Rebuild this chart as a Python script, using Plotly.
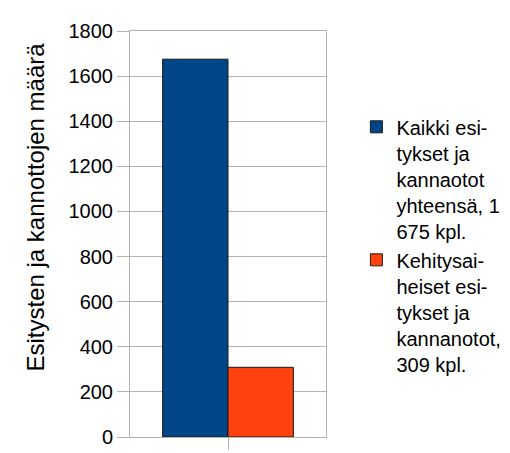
import plotly.graph_objects as go

categories = [""]
series_names = [
    "Kaikki esi-<br>tykset ja<br>kannaotot<br>yhteensä, 1<br>675 kpl.",
    "Kehitysai-<br>heiset esi-<br>tykset ja<br>kannanotot,<br>309 kpl.",
]
series_values = [[1675], [309]]
series_colors = ["#004586", "#ff420e"]
y_ticks = [0, 200, 400, 600, 800, 1000, 1200, 1400, 1600, 1800]
y_title = "Esitysten ja kannottojen määrä"

FONT = "Liberation Sans, Arial, sans-serif"

fig = go.Figure()
for i, (name, vals, col) in enumerate(zip(series_names, series_values, series_colors)):
    fig.add_trace(go.Bar(
        x=categories, y=vals, name=name, legendgroup=f"g{i}",
        marker=dict(color=col, line=dict(color="#1a1a1a", width=1)),
    ))

fig.add_annotation(
    text=y_title, textangle=-90, showarrow=False,
    xref="paper", yref="paper", x=-0.483, y=0.566,
    xanchor="center", yanchor="middle",
    font=dict(family=FONT, size=24, color="#000000"),
)

fig.update_layout(
    width=510, height=453,
    margin=dict(l=122, r=181, t=17, b=12),
    paper_bgcolor="white", plot_bgcolor="white",
    barmode="group", bargap=0.333, bargroupgap=0,
    font=dict(family=FONT, color="#000000"),
    showlegend=True,
    legend=dict(
        x=1.155, xanchor="left", y=0.812, yanchor="top",
        font=dict(family=FONT, size=20, color="#000000"),
        valign="top", tracegroupgap=5, bgcolor="rgba(0,0,0,0)",
        traceorder="normal",
    ),
    xaxis=dict(
        showticklabels=False, ticks="outside", ticklen=12, tickcolor="#b3b3b3",
        showgrid=False, showline=True, linecolor="#b3b3b3", mirror=True,
        zeroline=False,
    ),
    yaxis=dict(
        range=[0, 1800], tickvals=y_ticks, ticks="outside", ticklen=12,
        tickcolor="#b3b3b3", tickfont=dict(size=20),
        showgrid=True, gridcolor="#b3b3b3", gridwidth=1,
        showline=True, linecolor="#b3b3b3", mirror=True, zeroline=False,
    ),
)

fig.write_html("out.html")
